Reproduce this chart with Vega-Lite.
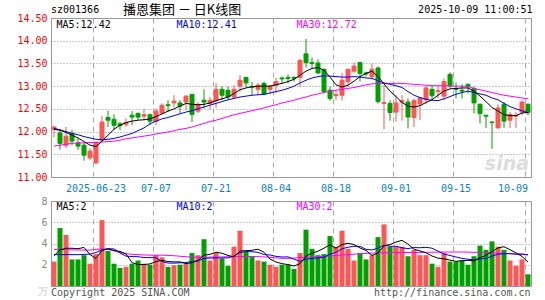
{
 "$schema": "https://vega.github.io/schema/vega-lite/v6.json",
 "autosize": {"type": "pad"},
 "padding": {"left": 16, "top": 3, "right": 0, "bottom": 0},
 "background": "white",
 "spacing": 24,
 "bounds": "flush",
 "config": {
  "view": {"stroke": "#999", "strokeWidth": 1},
  "axis": {"labelFont": "DejaVu Sans Mono", "labelFontSize": 10, "ticks": false, "domain": false, "title": null, "labelOverlap": false},
  "text": {"font": "DejaVu Sans Mono", "fontSize": 10}
 },
 "datasets": {"k": [
  {"d":"2025-06-12","o":12.05,"h":12.13,"l":11.88,"c":12.10,"v":2.3,"m5":12.05,"m10":12.07,"m30":11.68,"vm5":2.85,"vm10":2.95,"vm30":3.45},
  {"d":"2025-06-13","o":11.97,"h":12.04,"l":11.60,"c":11.74,"v":5.45,"m5":12.03,"m10":12.04,"m30":11.70,"vm5":3.4,"vm10":2.95,"vm30":3.43},
  {"d":"2025-06-16","o":11.70,"h":12.10,"l":11.63,"c":11.90,"v":4.8,"m5":11.98,"m10":12.00,"m30":11.72,"vm5":3.55,"vm10":2.95,"vm30":3.42},
  {"d":"2025-06-17","o":11.96,"h":12.04,"l":11.70,"c":11.79,"v":2.5,"m5":11.92,"m10":11.96,"m30":11.74,"vm5":3.55,"vm10":2.95,"vm30":3.40},
  {"d":"2025-06-18","o":11.75,"h":11.85,"l":11.60,"c":11.68,"v":2.5,"m5":11.86,"m10":11.93,"m30":11.75,"vm5":3.51,"vm10":2.95,"vm30":3.39},
  {"d":"2025-06-19","o":11.70,"h":11.76,"l":11.36,"c":11.48,"v":2.9,"m5":11.78,"m10":11.89,"m30":11.75,"vm5":3.63,"vm10":2.97,"vm30":3.38},
  {"d":"2025-06-20","o":11.42,"h":11.63,"l":11.37,"c":11.57,"v":2.1,"m5":11.70,"m10":11.86,"m30":11.76,"vm5":2.96,"vm10":3.0,"vm30":3.38},
  {"d":"2025-06-23","o":11.31,"h":11.79,"l":11.29,"c":11.76,"v":3.0,"m5":11.67,"m10":11.83,"m30":11.76,"vm5":2.60,"vm10":3.15,"vm30":3.45},
  {"d":"2025-06-24","o":11.81,"h":12.34,"l":11.77,"c":12.21,"v":6.2,"m5":11.79,"m10":11.82,"m30":11.77,"vm5":3.34,"vm10":3.4,"vm30":3.50},
  {"d":"2025-06-25","o":12.31,"h":12.46,"l":12.10,"c":12.25,"v":3.3,"m5":11.92,"m10":11.83,"m30":11.78,"vm5":3.50,"vm10":3.51,"vm30":3.45},
  {"d":"2025-06-26","o":12.27,"h":12.38,"l":12.04,"c":12.14,"v":2.1,"m5":12.05,"m10":11.85,"m30":11.79,"vm5":3.34,"vm10":3.49,"vm30":3.30},
  {"d":"2025-06-27","o":12.17,"h":12.21,"l":12.03,"c":12.13,"v":1.7,"m5":12.14,"m10":11.88,"m30":11.81,"vm5":3.26,"vm10":3.11,"vm30":3.15},
  {"d":"2025-06-30","o":12.16,"h":12.29,"l":12.10,"c":12.20,"v":1.8,"m5":12.20,"m10":11.92,"m30":11.84,"vm5":3.02,"vm10":2.81,"vm30":3.05},
  {"d":"2025-07-01","o":12.36,"h":12.45,"l":12.14,"c":12.32,"v":2.1,"m5":12.23,"m10":11.96,"m30":11.86,"vm5":2.20,"vm10":2.77,"vm30":2.98},
  {"d":"2025-07-02","o":12.40,"h":12.42,"l":12.25,"c":12.32,"v":2.4,"m5":12.25,"m10":12.02,"m30":11.88,"vm5":2.02,"vm10":2.76,"vm30":2.95},
  {"d":"2025-07-03","o":12.34,"h":12.49,"l":12.25,"c":12.37,"v":2.1,"m5":12.26,"m10":12.08,"m30":11.90,"vm5":2.02,"vm10":2.68,"vm30":2.92},
  {"d":"2025-07-04","o":12.37,"h":12.40,"l":12.14,"c":12.23,"v":2.0,"m5":12.28,"m10":12.17,"m30":11.92,"vm5":2.08,"vm10":2.67,"vm30":2.90},
  {"d":"2025-07-07","o":12.23,"h":12.51,"l":12.14,"c":12.45,"v":2.9,"m5":12.33,"m10":12.23,"m30":11.95,"vm5":2.30,"vm10":2.66,"vm30":2.90},
  {"d":"2025-07-08","o":12.41,"h":12.62,"l":12.38,"c":12.58,"v":2.7,"m5":12.39,"m10":12.28,"m30":11.97,"vm5":2.42,"vm10":2.31,"vm30":2.90},
  {"d":"2025-07-09","o":12.59,"h":12.69,"l":12.43,"c":12.57,"v":1.8,"m5":12.45,"m10":12.31,"m30":11.99,"vm5":2.30,"vm10":2.16,"vm30":2.88},
  {"d":"2025-07-10","o":12.63,"h":12.80,"l":12.54,"c":12.67,"v":1.95,"m5":12.50,"m10":12.35,"m30":12.02,"vm5":2.27,"vm10":2.15,"vm30":2.85},
  {"d":"2025-07-11","o":12.63,"h":12.69,"l":12.40,"c":12.56,"v":2.0,"m5":12.56,"m10":12.39,"m30":12.05,"vm5":2.27,"vm10":2.18,"vm30":2.80},
  {"d":"2025-07-14","o":12.65,"h":12.80,"l":12.47,"c":12.78,"v":2.1,"m5":12.62,"m10":12.43,"m30":12.07,"vm5":2.11,"vm10":2.21,"vm30":2.75},
  {"d":"2025-07-15","o":12.82,"h":12.82,"l":12.21,"c":12.38,"v":3.1,"m5":12.60,"m10":12.46,"m30":12.10,"vm5":2.19,"vm10":2.31,"vm30":2.72},
  {"d":"2025-07-16","o":12.45,"h":12.65,"l":12.40,"c":12.60,"v":2.9,"m5":12.59,"m10":12.50,"m30":12.14,"vm5":2.41,"vm10":2.36,"vm30":2.72},
  {"d":"2025-07-17","o":12.69,"h":12.93,"l":12.51,"c":12.65,"v":4.4,"m5":12.60,"m10":12.54,"m30":12.18,"vm5":2.90,"vm10":2.59,"vm30":2.72},
  {"d":"2025-07-18","o":12.62,"h":12.76,"l":12.49,"c":12.69,"v":2.4,"m5":12.63,"m10":12.58,"m30":12.22,"vm5":2.98,"vm10":2.63,"vm30":2.72},
  {"d":"2025-07-21","o":12.68,"h":13.06,"l":12.52,"c":12.93,"v":3.1,"m5":12.68,"m10":12.62,"m30":12.25,"vm5":3.18,"vm10":2.65,"vm30":2.73},
  {"d":"2025-07-22","o":12.93,"h":13.00,"l":12.69,"c":12.80,"v":2.6,"m5":12.72,"m10":12.66,"m30":12.29,"vm5":3.08,"vm10":2.64,"vm30":2.74},
  {"d":"2025-07-23","o":12.91,"h":12.99,"l":12.69,"c":12.76,"v":1.9,"m5":12.76,"m10":12.70,"m30":12.33,"vm5":2.88,"vm10":2.65,"vm30":2.75},
  {"d":"2025-07-24","o":12.76,"h":13.02,"l":12.73,"c":12.93,"v":3.7,"m5":12.84,"m10":12.73,"m30":12.37,"vm5":2.74,"vm10":2.82,"vm30":2.76},
  {"d":"2025-07-25","o":13.00,"h":13.24,"l":12.88,"c":13.13,"v":5.2,"m5":12.92,"m10":12.76,"m30":12.40,"vm5":3.30,"vm10":3.14,"vm30":2.77},
  {"d":"2025-07-28","o":13.19,"h":13.21,"l":12.97,"c":13.07,"v":3.2,"m5":12.96,"m10":12.78,"m30":12.43,"vm5":3.32,"vm10":3.25,"vm30":2.78},
  {"d":"2025-07-29","o":12.99,"h":13.09,"l":12.79,"c":12.97,"v":2.8,"m5":12.99,"m10":12.80,"m30":12.46,"vm5":3.36,"vm10":3.22,"vm30":2.78},
  {"d":"2025-07-30","o":12.93,"h":13.07,"l":12.80,"c":13.02,"v":2.4,"m5":13.00,"m10":12.81,"m30":12.49,"vm5":3.46,"vm10":3.17,"vm30":2.76},
  {"d":"2025-07-31","o":13.06,"h":13.10,"l":12.80,"c":12.82,"v":2.3,"m5":13.00,"m10":12.82,"m30":12.52,"vm5":3.18,"vm10":2.96,"vm30":2.74},
  {"d":"2025-08-01","o":12.93,"h":13.02,"l":12.82,"c":13.00,"v":2.0,"m5":13.00,"m10":12.85,"m30":12.56,"vm5":2.54,"vm10":2.92,"vm30":2.70},
  {"d":"2025-08-04","o":13.02,"h":13.18,"l":12.85,"c":13.10,"v":1.8,"m5":13.03,"m10":12.88,"m30":12.59,"vm5":2.26,"vm10":2.79,"vm30":2.65},
  {"d":"2025-08-05","o":13.18,"h":13.21,"l":13.06,"c":13.16,"v":2.0,"m5":13.06,"m10":12.91,"m30":12.63,"vm5":2.10,"vm10":2.73,"vm30":2.60},
  {"d":"2025-08-06","o":13.19,"h":13.26,"l":13.06,"c":13.17,"v":2.0,"m5":13.10,"m10":12.95,"m30":12.66,"vm5":2.02,"vm10":2.74,"vm30":2.60},
  {"d":"2025-08-07","o":13.19,"h":13.22,"l":13.10,"c":13.17,"v":1.6,"m5":13.15,"m10":13.00,"m30":12.69,"vm5":1.88,"vm10":2.53,"vm30":2.63},
  {"d":"2025-08-08","o":13.19,"h":13.59,"l":12.99,"c":13.57,"v":3.1,"m5":13.24,"m10":13.07,"m30":12.73,"vm5":2.10,"vm10":2.32,"vm30":2.66},
  {"d":"2025-08-11","o":13.71,"h":14.04,"l":13.41,"c":13.52,"v":5.3,"m5":13.33,"m10":13.13,"m30":12.76,"vm5":2.80,"vm10":2.53,"vm30":2.70},
  {"d":"2025-08-12","o":13.52,"h":13.63,"l":13.39,"c":13.50,"v":3.5,"m5":13.39,"m10":13.18,"m30":12.80,"vm5":3.10,"vm10":2.60,"vm30":2.73},
  {"d":"2025-08-13","o":13.51,"h":13.59,"l":13.26,"c":13.29,"v":2.9,"m5":13.41,"m10":13.21,"m30":12.83,"vm5":3.28,"vm10":2.65,"vm30":2.76},
  {"d":"2025-08-14","o":13.37,"h":13.39,"l":12.84,"c":12.88,"v":3.0,"m5":13.35,"m10":13.23,"m30":12.86,"vm5":3.56,"vm10":2.72,"vm30":2.79},
  {"d":"2025-08-15","o":12.91,"h":12.99,"l":12.68,"c":12.73,"v":4.7,"m5":13.20,"m10":13.22,"m30":12.89,"vm5":3.88,"vm10":2.99,"vm30":2.82},
  {"d":"2025-08-18","o":12.79,"h":12.91,"l":12.69,"c":12.81,"v":3.7,"m5":13.03,"m10":13.21,"m30":12.91,"vm5":3.56,"vm10":3.18,"vm30":2.87},
  {"d":"2025-08-19","o":12.80,"h":13.29,"l":12.68,"c":13.13,"v":5.2,"m5":12.98,"m10":13.20,"m30":12.93,"vm5":3.90,"vm10":3.50,"vm30":2.92},
  {"d":"2025-08-20","o":13.10,"h":13.39,"l":12.99,"c":13.37,"v":3.5,"m5":13.02,"m10":13.20,"m30":12.95,"vm5":4.02,"vm10":3.65,"vm30":2.96},
  {"d":"2025-08-21","o":13.33,"h":13.52,"l":13.29,"c":13.44,"v":2.4,"m5":13.11,"m10":13.21,"m30":12.97,"vm5":3.90,"vm10":3.73,"vm30":3.00},
  {"d":"2025-08-22","o":13.52,"h":13.52,"l":13.10,"c":13.28,"v":3.1,"m5":13.21,"m10":13.20,"m30":13.00,"vm5":3.58,"vm10":3.73,"vm30":3.04},
  {"d":"2025-08-25","o":13.29,"h":13.32,"l":13.21,"c":13.27,"v":2.5,"m5":13.28,"m10":13.18,"m30":13.03,"vm5":3.34,"vm10":3.45,"vm30":3.07},
  {"d":"2025-08-26","o":13.21,"h":13.50,"l":13.15,"c":13.37,"v":2.9,"m5":13.33,"m10":13.17,"m30":13.05,"vm5":2.88,"vm10":3.39,"vm30":3.10},
  {"d":"2025-08-27","o":13.40,"h":13.43,"l":12.62,"c":12.66,"v":4.6,"m5":13.21,"m10":13.12,"m30":13.06,"vm5":3.10,"vm10":3.56,"vm30":3.12},
  {"d":"2025-08-28","o":12.62,"h":13.02,"l":12.05,"c":12.64,"v":5.8,"m5":13.05,"m10":13.07,"m30":13.06,"vm5":3.78,"vm10":3.84,"vm30":3.13},
  {"d":"2025-08-29","o":12.62,"h":12.69,"l":12.24,"c":12.42,"v":3.7,"m5":12.89,"m10":13.04,"m30":13.06,"vm5":3.90,"vm10":3.74,"vm30":3.14},
  {"d":"2025-09-01","o":12.43,"h":12.80,"l":12.22,"c":12.63,"v":3.7,"m5":12.77,"m10":13.01,"m30":13.06,"vm5":4.14,"vm10":3.74,"vm30":3.15},
  {"d":"2025-09-02","o":12.65,"h":12.80,"l":12.24,"c":12.68,"v":3.7,"m5":12.64,"m10":12.97,"m30":13.06,"vm5":4.30,"vm10":3.59,"vm30":3.15},
  {"d":"2025-09-03","o":12.65,"h":12.73,"l":12.07,"c":12.32,"v":2.8,"m5":12.56,"m10":12.88,"m30":13.05,"vm5":3.94,"vm10":3.52,"vm30":3.15},
  {"d":"2025-09-04","o":12.31,"h":12.73,"l":12.10,"c":12.68,"v":3.4,"m5":12.54,"m10":12.80,"m30":13.04,"vm5":3.46,"vm10":3.62,"vm30":3.15},
  {"d":"2025-09-05","o":12.61,"h":12.76,"l":12.25,"c":12.74,"v":2.9,"m5":12.57,"m10":12.75,"m30":13.03,"vm5":3.30,"vm10":3.60,"vm30":3.16},
  {"d":"2025-09-08","o":12.70,"h":13.00,"l":12.60,"c":12.96,"v":2.9,"m5":12.64,"m10":12.71,"m30":13.02,"vm5":3.14,"vm10":3.64,"vm30":3.17},
  {"d":"2025-09-09","o":12.93,"h":13.00,"l":12.72,"c":12.79,"v":2.1,"m5":12.70,"m10":12.69,"m30":13.01,"vm5":2.82,"vm10":3.56,"vm30":3.18},
  {"d":"2025-09-10","o":12.88,"h":12.99,"l":12.73,"c":12.90,"v":1.8,"m5":12.80,"m10":12.68,"m30":13.01,"vm5":2.62,"vm10":3.28,"vm30":3.19},
  {"d":"2025-09-11","o":12.78,"h":13.17,"l":12.69,"c":13.10,"v":3.1,"m5":12.89,"m10":12.72,"m30":13.01,"vm5":2.56,"vm10":3.01,"vm30":3.20},
  {"d":"2025-09-12","o":13.26,"h":13.30,"l":12.95,"c":13.01,"v":2.3,"m5":12.94,"m10":12.77,"m30":13.00,"vm5":2.44,"vm10":2.87,"vm30":3.20},
  {"d":"2025-09-15","o":12.95,"h":13.08,"l":12.73,"c":12.93,"v":2.3,"m5":12.95,"m10":12.82,"m30":13.00,"vm5":2.32,"vm10":2.73,"vm30":3.20},
  {"d":"2025-09-16","o":12.91,"h":13.04,"l":12.73,"c":12.89,"v":2.4,"m5":12.96,"m10":12.86,"m30":13.00,"vm5":2.38,"vm10":2.60,"vm30":3.20},
  {"d":"2025-09-17","o":13.04,"h":13.06,"l":12.84,"c":12.99,"v":2.0,"m5":12.96,"m10":12.89,"m30":12.99,"vm5":2.42,"vm10":2.52,"vm30":3.19},
  {"d":"2025-09-18","o":12.95,"h":12.99,"l":12.40,"c":12.63,"v":2.8,"m5":12.89,"m10":12.86,"m30":12.95,"vm5":2.36,"vm10":2.46,"vm30":3.17},
  {"d":"2025-09-19","o":12.60,"h":12.62,"l":12.18,"c":12.40,"v":3.8,"m5":12.78,"m10":12.83,"m30":12.92,"vm5":2.66,"vm10":2.55,"vm30":3.15},
  {"d":"2025-09-22","o":12.36,"h":12.36,"l":12.08,"c":12.34,"v":3.4,"m5":12.66,"m10":12.80,"m30":12.89,"vm5":2.88,"vm10":2.60,"vm30":3.13},
  {"d":"2025-09-23","o":12.21,"h":12.23,"l":11.62,"c":12.20,"v":4.2,"m5":12.53,"m10":12.74,"m30":12.86,"vm5":3.24,"vm10":2.81,"vm30":3.12},
  {"d":"2025-09-24","o":12.08,"h":12.60,"l":12.07,"c":12.52,"v":3.7,"m5":12.45,"m10":12.70,"m30":12.83,"vm5":3.58,"vm10":3.00,"vm30":3.10},
  {"d":"2025-09-25","o":12.60,"h":12.65,"l":12.08,"c":12.23,"v":3.4,"m5":12.37,"m10":12.62,"m30":12.80,"vm5":3.70,"vm10":3.03,"vm30":3.08},
  {"d":"2025-09-26","o":12.25,"h":12.43,"l":12.08,"c":12.38,"v":2.4,"m5":12.35,"m10":12.55,"m30":12.78,"vm5":3.42,"vm10":3.04,"vm30":3.05},
  {"d":"2025-09-29","o":12.34,"h":12.43,"l":12.08,"c":12.36,"v":1.9,"m5":12.35,"m10":12.50,"m30":12.76,"vm5":3.12,"vm10":3.00,"vm30":3.02},
  {"d":"2025-09-30","o":12.43,"h":12.69,"l":12.36,"c":12.65,"v":2.5,"m5":12.41,"m10":12.46,"m30":12.74,"vm5":2.78,"vm10":3.01,"vm30":2.99},
  {"d":"2025-10-09","o":12.60,"h":12.62,"l":12.36,"c":12.42,"v":1.1,"m5":12.42,"m10":12.41,"m30":12.72,"vm5":2.26,"vm10":2.92,"vm30":2.96}
 ]},
 "vconcat": [
  {
   "width": 480, "height": 159,
   "data": {"name": "k"},
   "encoding": {
    "x": {"field": "d", "type": "ordinal",
     "scale": {"type": "band", "paddingInner": 0, "paddingOuter": 0},
     "axis": {"values": ["2025-06-23","2025-07-07","2025-07-21","2025-08-04","2025-08-18","2025-09-01","2025-09-15","2025-10-09"],
      "labelExpr": "datum.value == '2025-06-23' ? datum.value : slice(datum.value, 5)",
      "labelColor": "#0a7fd0", "labelAngle": 0, "bandPosition": 0, "labelPadding": 6,
      "labelAlign": {"condition": {"test": "datum.value == '2025-10-09'", "value": "right"}, "value": "center"},
      "grid": true, "gridDash": [5, 4], "gridColor": "#aaa"}}
   },
   "layer": [
    {"mark": {"type": "rule", "strokeWidth": 1},
     "encoding": {
      "y": {"field": "l", "type": "quantitative", "scale": {"domain": [11, 14.5], "nice": false, "zero": false},
       "axis": {"values": [11, 11.5, 12, 12.5, 13, 13.5, 14, 14.5], "format": ".2f", "labelColor": "#ff0000", "labelPadding": 4, "labelOverlap": false, "grid": true, "gridDash": [1, 2], "gridColor": "#999"}},
      "y2": {"field": "h"},
      "color": {"condition": {"test": "datum.c >= datum.o", "value": "#ff5555"}, "value": "#00a000"}}},
    {"mark": {"type": "bar", "width": 4, "strokeWidth": 1},
     "encoding": {
      "y": {"field": "o", "type": "quantitative",
       "axis": {"values": [11, 11.5, 12, 12.5, 13, 13.5, 14, 14.5], "format": ".2f", "labelColor": "#ff0000", "labelPadding": 4, "labelOverlap": false, "grid": true, "gridDash": [1, 2], "gridColor": "#999"}},
      "y2": {"field": "c"},
      "color": {"condition": {"test": "datum.c >= datum.o", "value": "#ff5555"}, "value": "#00a000"},
      "stroke": {"condition": {"test": "datum.c >= datum.o", "value": "#ff5555"}, "value": "#00a000"}}},
    {"mark": {"type": "line", "color": "#ff00ff", "strokeWidth": 1}, "encoding": {"y": {"field": "m30", "type": "quantitative",
       "axis": {"values": [11, 11.5, 12, 12.5, 13, 13.5, 14, 14.5], "format": ".2f", "labelColor": "#ff0000", "labelPadding": 4, "labelOverlap": false, "grid": true, "gridDash": [1, 2], "gridColor": "#999"}}}},
    {"mark": {"type": "line", "color": "#0000ff", "strokeWidth": 1}, "encoding": {"y": {"field": "m10", "type": "quantitative",
       "axis": {"values": [11, 11.5, 12, 12.5, 13, 13.5, 14, 14.5], "format": ".2f", "labelColor": "#ff0000", "labelPadding": 4, "labelOverlap": false, "grid": true, "gridDash": [1, 2], "gridColor": "#999"}}}},
    {"mark": {"type": "line", "color": "#000000", "strokeWidth": 1}, "encoding": {"y": {"field": "m5", "type": "quantitative",
       "axis": {"values": [11, 11.5, 12, 12.5, 13, 13.5, 14, 14.5], "format": ".2f", "labelColor": "#ff0000", "labelPadding": 4, "labelOverlap": false, "grid": true, "gridDash": [1, 2], "gridColor": "#999"}}}},
    {"data": {"values": [{"t": "sina"}]},
     "mark": {"type": "text", "align": "right", "dx": 1, "font": "DejaVu Sans", "fontSize": 19, "fontWeight": "bold", "fontStyle": "italic", "color": "#dcdcdc"},
     "encoding": {"x": {"datum": "2025-10-09"}, "y": {"datum": 11.28, "type": "quantitative",
       "axis": {"values": [11, 11.5, 12, 12.5, 13, 13.5, 14, 14.5], "format": ".2f", "labelColor": "#ff0000", "labelPadding": 4, "labelOverlap": false, "grid": true, "gridDash": [1, 2], "gridColor": "#999"}}, "text": {"field": "t"}}},
    {"data": {"values": [{"t": "MA5:12.42"}]},
     "mark": {"type": "text", "align": "left", "dx": 2.5, "color": "#000000"},
     "encoding": {"x": {"datum": "2025-06-12"}, "y": {"datum": 14.35, "type": "quantitative",
       "axis": {"values": [11, 11.5, 12, 12.5, 13, 13.5, 14, 14.5], "format": ".2f", "labelColor": "#ff0000", "labelPadding": 4, "labelOverlap": false, "grid": true, "gridDash": [1, 2], "gridColor": "#999"}}, "text": {"field": "t"}}},
    {"data": {"values": [{"t": "MA10:12.41"}]},
     "mark": {"type": "text", "align": "left", "dx": 2.5, "color": "#0000ff"},
     "encoding": {"x": {"datum": "2025-07-10"}, "y": {"datum": 14.35, "type": "quantitative",
       "axis": {"values": [11, 11.5, 12, 12.5, 13, 13.5, 14, 14.5], "format": ".2f", "labelColor": "#ff0000", "labelPadding": 4, "labelOverlap": false, "grid": true, "gridDash": [1, 2], "gridColor": "#999"}}, "text": {"field": "t"}}},
    {"data": {"values": [{"t": "MA30:12.72"}]},
     "mark": {"type": "text", "align": "left", "dx": 2.5, "color": "#ff00ff"},
     "encoding": {"x": {"datum": "2025-08-07"}, "y": {"datum": 14.35, "type": "quantitative",
       "axis": {"values": [11, 11.5, 12, 12.5, 13, 13.5, 14, 14.5], "format": ".2f", "labelColor": "#ff0000", "labelPadding": 4, "labelOverlap": false, "grid": true, "gridDash": [1, 2], "gridColor": "#999"}}, "text": {"field": "t"}}},
    {"data": {"values": [{"t": "sz001366"}]},
     "mark": {"type": "text", "align": "left", "dx": -3, "color": "#000000"},
     "encoding": {"x": {"datum": "2025-06-12"}, "y": {"datum": 14.68, "type": "quantitative",
       "axis": {"values": [11, 11.5, 12, 12.5, 13, 13.5, 14, 14.5], "format": ".2f", "labelColor": "#ff0000", "labelPadding": 4, "labelOverlap": false, "grid": true, "gridDash": [1, 2], "gridColor": "#999"}}, "text": {"field": "t"}}},
    {"data": {"values": [{"t": "播恩集团 － 日K线图"}]},
     "mark": {"type": "text", "align": "left", "dx": -3, "font": "Noto Sans CJK SC", "fontSize": 13, "color": "#000000"},
     "encoding": {"x": {"datum": "2025-06-30"}, "y": {"datum": 14.68, "type": "quantitative",
       "axis": {"values": [11, 11.5, 12, 12.5, 13, 13.5, 14, 14.5], "format": ".2f", "labelColor": "#ff0000", "labelPadding": 4, "labelOverlap": false, "grid": true, "gridDash": [1, 2], "gridColor": "#999"}}, "text": {"field": "t"}}},
    {"data": {"values": [{"t": "2025-10-09 11:00:51"}]},
     "mark": {"type": "text", "align": "right", "dx": 4.5, "color": "#000000"},
     "encoding": {"x": {"datum": "2025-10-09"}, "y": {"datum": 14.68, "type": "quantitative",
       "axis": {"values": [11, 11.5, 12, 12.5, 13, 13.5, 14, 14.5], "format": ".2f", "labelColor": "#ff0000", "labelPadding": 4, "labelOverlap": false, "grid": true, "gridDash": [1, 2], "gridColor": "#999"}}, "text": {"field": "t"}}}
   ]
  },
  {
   "width": 480, "height": 85,
   "data": {"name": "k"},
   "encoding": {
    "x": {"field": "d", "type": "ordinal",
     "scale": {"type": "band", "paddingInner": 0, "paddingOuter": 0},
     "axis": {"values": ["2025-06-23","2025-07-07","2025-07-21","2025-08-04","2025-08-18","2025-09-01","2025-09-15","2025-10-09"],
      "labels": false, "bandPosition": 0, "grid": true, "gridDash": [5, 4], "gridColor": "#aaa"}}
   },
   "layer": [
    {"mark": {"type": "bar", "width": 5},
     "encoding": {
      "y": {"field": "v", "type": "quantitative", "scale": {"domain": [0, 8], "nice": false},
       "axis": {"values": [0, 2, 4, 6, 8], "labelExpr": "datum.value == 0 ? '万' : datum.label", "labelPadding": 4, "labelOverlap": false,
        "labelColor": {"condition": {"test": "datum.value == 0", "value": "#cccccc"}, "value": "#888888"},
        "labelBaseline": {"condition": {"test": "datum.value == 0", "value": "top"}, "value": "middle"},
        "grid": true, "gridDash": [1, 2], "gridColor": "#999"}},
      "color": {"condition": {"test": "datum.c >= datum.o", "value": "#ff5555"}, "value": "#00a000"}}},
    {"mark": {"type": "line", "color": "#ff00ff", "strokeWidth": 1}, "encoding": {"y": {"field": "vm30", "type": "quantitative",
       "axis": {"values": [0, 2, 4, 6, 8], "labelExpr": "datum.value == 0 ? '万' : datum.label", "labelPadding": 4, "labelOverlap": false,
        "labelColor": {"condition": {"test": "datum.value == 0", "value": "#cccccc"}, "value": "#888888"},
        "labelBaseline": {"condition": {"test": "datum.value == 0", "value": "top"}, "value": "middle"},
        "grid": true, "gridDash": [1, 2], "gridColor": "#999"}}}},
    {"mark": {"type": "line", "color": "#0000ff", "strokeWidth": 1}, "encoding": {"y": {"field": "vm10", "type": "quantitative",
       "axis": {"values": [0, 2, 4, 6, 8], "labelExpr": "datum.value == 0 ? '万' : datum.label", "labelPadding": 4, "labelOverlap": false,
        "labelColor": {"condition": {"test": "datum.value == 0", "value": "#cccccc"}, "value": "#888888"},
        "labelBaseline": {"condition": {"test": "datum.value == 0", "value": "top"}, "value": "middle"},
        "grid": true, "gridDash": [1, 2], "gridColor": "#999"}}}},
    {"mark": {"type": "line", "color": "#000000", "strokeWidth": 1}, "encoding": {"y": {"field": "vm5", "type": "quantitative",
       "axis": {"values": [0, 2, 4, 6, 8], "labelExpr": "datum.value == 0 ? '万' : datum.label", "labelPadding": 4, "labelOverlap": false,
        "labelColor": {"condition": {"test": "datum.value == 0", "value": "#cccccc"}, "value": "#888888"},
        "labelBaseline": {"condition": {"test": "datum.value == 0", "value": "top"}, "value": "middle"},
        "grid": true, "gridDash": [1, 2], "gridColor": "#999"}}}},
    {"data": {"values": [{"t": "MA5:2"}]},
     "mark": {"type": "text", "align": "left", "dx": 2.5, "color": "#000000"},
     "encoding": {"x": {"datum": "2025-06-12"}, "y": {"datum": 7.4, "type": "quantitative",
       "axis": {"values": [0, 2, 4, 6, 8], "labelExpr": "datum.value == 0 ? '万' : datum.label", "labelPadding": 4, "labelOverlap": false,
        "labelColor": {"condition": {"test": "datum.value == 0", "value": "#cccccc"}, "value": "#888888"},
        "labelBaseline": {"condition": {"test": "datum.value == 0", "value": "top"}, "value": "middle"},
        "grid": true, "gridDash": [1, 2], "gridColor": "#999"}}, "text": {"field": "t"}}},
    {"data": {"values": [{"t": "MA10:2"}]},
     "mark": {"type": "text", "align": "left", "dx": 2.5, "color": "#0000ff"},
     "encoding": {"x": {"datum": "2025-07-10"}, "y": {"datum": 7.4, "type": "quantitative",
       "axis": {"values": [0, 2, 4, 6, 8], "labelExpr": "datum.value == 0 ? '万' : datum.label", "labelPadding": 4, "labelOverlap": false,
        "labelColor": {"condition": {"test": "datum.value == 0", "value": "#cccccc"}, "value": "#888888"},
        "labelBaseline": {"condition": {"test": "datum.value == 0", "value": "top"}, "value": "middle"},
        "grid": true, "gridDash": [1, 2], "gridColor": "#999"}}, "text": {"field": "t"}}},
    {"data": {"values": [{"t": "MA30:2"}]},
     "mark": {"type": "text", "align": "left", "dx": 2.5, "color": "#ff00ff"},
     "encoding": {"x": {"datum": "2025-08-07"}, "y": {"datum": 7.4, "type": "quantitative",
       "axis": {"values": [0, 2, 4, 6, 8], "labelExpr": "datum.value == 0 ? '万' : datum.label", "labelPadding": 4, "labelOverlap": false,
        "labelColor": {"condition": {"test": "datum.value == 0", "value": "#cccccc"}, "value": "#888888"},
        "labelBaseline": {"condition": {"test": "datum.value == 0", "value": "top"}, "value": "middle"},
        "grid": true, "gridDash": [1, 2], "gridColor": "#999"}}, "text": {"field": "t"}}},
    {"data": {"values": [{"t": "Copyright 2025 SINA.COM"}]},
     "mark": {"type": "text", "align": "left", "dx": -3, "color": "#555555"},
     "encoding": {"x": {"datum": "2025-06-12"}, "y": {"datum": -0.68, "type": "quantitative",
       "axis": {"values": [0, 2, 4, 6, 8], "labelExpr": "datum.value == 0 ? '万' : datum.label", "labelPadding": 4, "labelOverlap": false,
        "labelColor": {"condition": {"test": "datum.value == 0", "value": "#cccccc"}, "value": "#888888"},
        "labelBaseline": {"condition": {"test": "datum.value == 0", "value": "top"}, "value": "middle"},
        "grid": true, "gridDash": [1, 2], "gridColor": "#999"}}, "text": {"field": "t"}}},
    {"data": {"values": [{"t": "http://finance.sina.com.cn"}]},
     "mark": {"type": "text", "align": "right", "dx": 2.5, "color": "#555555"},
     "encoding": {"x": {"datum": "2025-10-09"}, "y": {"datum": -0.68, "type": "quantitative",
       "axis": {"values": [0, 2, 4, 6, 8], "labelExpr": "datum.value == 0 ? '万' : datum.label", "labelPadding": 4, "labelOverlap": false,
        "labelColor": {"condition": {"test": "datum.value == 0", "value": "#cccccc"}, "value": "#888888"},
        "labelBaseline": {"condition": {"test": "datum.value == 0", "value": "top"}, "value": "middle"},
        "grid": true, "gridDash": [1, 2], "gridColor": "#999"}}, "text": {"field": "t"}}}
   ]
  }
 ]
}
